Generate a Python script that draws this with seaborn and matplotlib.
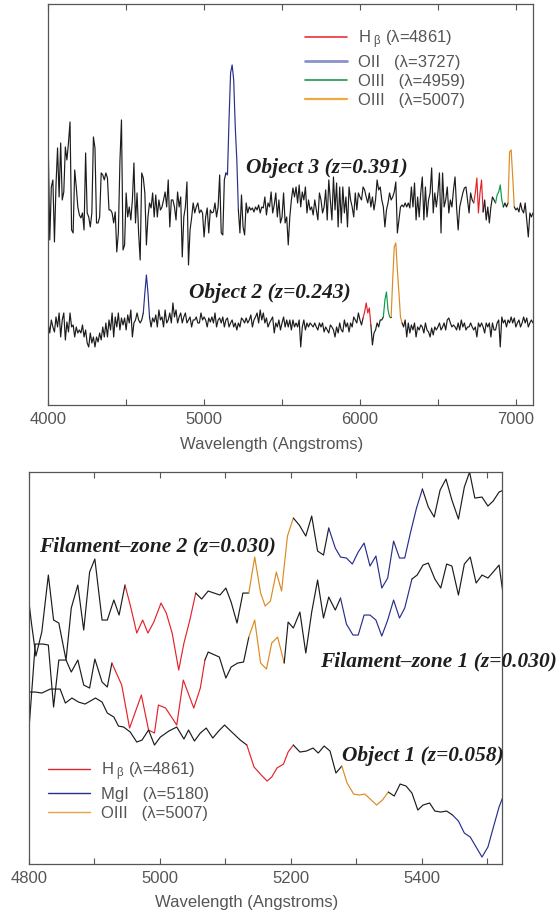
import numpy as np
import pandas as pd
import matplotlib
matplotlib.use("Agg")
import matplotlib.pyplot as plt
from matplotlib.lines import Line2D
from matplotlib import font_manager
from matplotlib.ticker import MultipleLocator
import seaborn as sns

# ---------------- upper panel: spectra on a 10 A grid, 4000-7110 A ----------------
top_start, top_step = 4000, 10

object3_flux = [
    262, 165, 218, 225, 163, 220, 257, 208, 262, 205,   # 4000
    213, 258, 245, 262, 283, 175, 172, 235, 218, 198,   # 4100
    190, 187, 192, 175, 252, 192, 188, 178, 192, 268,   # 4200
    257, 182, 182, 188, 232, 230, 225, 232, 227, 195,   # 4300
    195, 192, 182, 193, 153, 172, 243, 285, 155, 160,   # 4400
    212, 188, 198, 185, 205, 242, 182, 212, 172, 145,   # 4500
    232, 227, 212, 160, 188, 202, 197, 212, 188, 210,   # 4600
    188, 205, 195, 198, 205, 213, 198, 225, 178, 205,   # 4700
    205, 198, 185, 213, 198, 208, 148, 188, 198, 223,   # 4800
    140, 175, 187, 202, 192, 198, 202, 192, 195, 192,   # 4900
    168, 188, 197, 172, 195, 192, 193, 202, 188, 198,   # 5000
    230, 172, 170, 225, 232, 230, 285, 332, 340, 325,   # 5100
    278, 245, 195, 172, 210, 178, 170, 202, 192, 198,   # 5200
    195, 197, 193, 198, 195, 200, 192, 198, 197, 208,   # 5300
    190, 202, 198, 213, 192, 200, 212, 188, 205, 182,   # 5400
    188, 212, 182, 188, 160, 188, 205, 217, 208, 218,   # 5500
    202, 220, 198, 213, 205, 218, 192, 205, 195, 198,   # 5600
    190, 205, 195, 185, 212, 205, 192, 198, 215, 185,   # 5700
    225, 205, 185, 228, 195, 222, 178, 218, 182, 218,   # 5800
    192, 208, 178, 218, 205, 198, 188, 212, 195, 212,   # 5900
    208, 205, 218, 215, 208, 202, 212, 198, 208, 195,   # 6000
    205, 225, 215, 218, 205, 198, 178, 195, 202, 212,   # 6100
    205, 208, 213, 223, 172, 185, 198, 200, 198, 202,   # 6200
    198, 202, 197, 218, 198, 222, 185, 208, 188, 212,   # 6300
    228, 185, 218, 188, 205, 212, 237, 192, 212, 198,   # 6400
    212, 232, 172, 232, 198, 205, 218, 192, 205, 198,   # 6500
    215, 228, 197, 175, 198, 205, 212, 217, 218, 205,   # 6600
    192, 212, 205, 202, 212, 227, 192, 212, 225, 193,   # 6700
    205, 185, 198, 182, 198, 208, 205, 202, 210, 213,   # 6800
    220, 205, 198, 202, 198, 202, 253, 255, 228, 198,   # 6900
    195, 197, 193, 202, 195, 192, 202, 185, 168, 192,   # 7000
    188, 192,                                           # 7100
]

object2_flux = [
    82, 72, 85, 78, 73, 88, 78, 92, 68, 85,
    92, 65, 83, 73, 92, 78, 80, 68, 78, 72,
    75, 72, 80, 68, 75, 62, 58, 72, 62, 68,
    58, 68, 63, 72, 65, 78, 68, 82, 68, 85,
    75, 92, 68, 88, 78, 92, 75, 87, 80, 87,
    75, 90, 82, 95, 68, 82, 85, 92, 85, 82,
    85, 92, 112, 130, 112, 88, 78, 87, 83, 90,
    78, 95, 85, 88, 78, 95, 82, 85, 92, 82,
    102, 88, 95, 82, 88, 92, 82, 88, 92, 82,
    85, 88, 78, 85, 85, 88, 82, 82, 92, 85,
    88, 85, 78, 87, 83, 88, 82, 92, 78, 85,
    87, 82, 88, 78, 85, 87, 78, 82, 85, 78,
    82, 75, 82, 78, 87, 85, 82, 87, 82, 85,
    90, 78, 85, 88, 92, 82, 95, 85, 92, 82,
    87, 78, 82, 85, 88, 72, 82, 78, 85, 75,
    82, 88, 78, 85, 78, 85, 75, 85, 78, 82,
    78, 85, 58, 78, 85, 75, 82, 78, 82, 80,
    78, 82, 78, 75, 82, 78, 82, 73, 78, 75,
    72, 80, 78, 75, 68, 78, 72, 82, 75, 73,
    85, 78, 82, 73, 82, 78, 88, 85, 82, 92,
    85, 80, 87, 93, 102, 92, 97, 80, 60, 72,
    75, 82, 78, 85, 85, 88, 105, 113, 95, 88,
    88, 125, 158, 162, 135, 112, 88, 82, 78, 85,
    68, 82, 72, 80, 75, 82, 68, 78, 75, 80,
    78, 72, 82, 75, 73, 68, 77, 70, 78, 75,
    78, 82, 75, 78, 82, 75, 85, 87, 82, 78,
    80, 78, 75, 82, 75, 85, 78, 82, 75, 78,
    78, 82, 78, 75, 78, 68, 82, 78, 82, 78,
    72, 82, 78, 82, 68, 82, 75, 75, 82, 85,
    58, 88, 82, 85, 78, 85, 82, 88, 82, 87,
    78, 82, 85, 78, 82, 88, 82, 87, 78, 82,
    85, 82,
]

# emission-line windows (wavelength range, colour key)
object3_lines = [(5140, 5220, "OII"), (6730, 6790, "Hb"), (6870, 6920, "OIII4959"), (6950, 6990, "OIII5007")]
object2_lines = [(4610, 4650, "OII"), (6020, 6070, "Hb"), (6150, 6190, "OIII4959"), (6200, 6270, "OIII5007")]

# ---------------- lower panel ----------------
object1_wl = [4800, 4810, 4820, 4833, 4848, 4856, 4866, 4876, 4886, 4902, 4912, 4920, 4930, 4937,
              4945, 4955, 4965, 4973, 4983, 4992, 5001, 5014, 5026, 5037, 5044, 5053, 5062, 5071,
              5081, 5090, 5099, 5110, 5123, 5133, 5144, 5155, 5164, 5171, 5179, 5189, 5196, 5204,
              5214, 5224, 5234, 5242, 5251, 5260, 5269, 5278, 5286, 5296, 5305, 5313, 5323, 5331,
              5340, 5349, 5358, 5367, 5376, 5385, 5394, 5402, 5412, 5420, 5429, 5438, 5447, 5456,
              5465, 5474, 5483, 5492, 5501, 5509, 5518, 5525]
object1_flux = [172, 172, 171, 175, 175, 161, 166, 162, 160, 166, 162, 151, 147, 138,
                137, 132, 122, 124, 134, 119, 127, 133, 137, 125, 134, 123, 131, 136,
                126, 133, 139, 132, 124, 119, 97, 89, 83, 87, 96, 100, 112, 119,
                112, 113, 116, 111, 118, 113, 91, 98, 81, 70, 69, 70, 64, 59,
                64, 72, 68, 80, 78, 71, 54, 59, 61, 53, 52, 53, 49, 43,
                31, 27, 17, 7, 17, 36, 57, 69]

fz2_wl = [4800, 4804, 4811, 4820, 4830, 4838, 4846, 4857, 4865, 4875, 4884, 4893, 4901, 4912,
          4920, 4930, 4938, 4947, 4955, 4965, 4974, 4982, 4991, 5002, 5010, 5019, 5029, 5037,
          5046, 5055, 5064, 5074, 5083, 5092, 5101, 5109, 5118, 5127, 5136, 5145, 5154, 5161,
          5169, 5178, 5186, 5195, 5204, 5213, 5223, 5232, 5241, 5250, 5258, 5268, 5276, 5285,
          5294, 5303, 5312, 5321, 5330, 5339, 5348, 5357, 5366, 5374, 5383, 5392, 5401, 5410,
          5419, 5428, 5437, 5446, 5456, 5465, 5473, 5481, 5492, 5501, 5509, 5518, 5525]
fz2_flux = [264, 242, 208, 232, 289, 244, 241, 204, 256, 279, 234, 292, 305, 244,
            244, 264, 249, 279, 259, 231, 244, 231, 242, 261, 251, 231, 194, 221,
            244, 271, 265, 273, 271, 269, 276, 262, 241, 271, 271, 307, 271, 258,
            263, 292, 273, 328, 346, 339, 328, 348, 313, 309, 336, 316, 307, 306,
            300, 312, 321, 298, 308, 276, 286, 323, 306, 306, 332, 356, 375, 357,
            347, 374, 385, 364, 345, 377, 392, 366, 367, 358, 363, 372, 374]

fz1_wl = [4800, 4810, 4822, 4830, 4838, 4846, 4857, 4865, 4875, 4884, 4893, 4901, 4912, 4920,
          4927, 4942, 4954, 4972, 4983, 4992, 4998, 5009, 5026, 5036, 5052, 5062, 5069, 5074,
          5091, 5101, 5109, 5119, 5128, 5136, 5145, 5154, 5163, 5171, 5180, 5190, 5196, 5204,
          5214, 5223, 5232, 5241, 5250, 5258, 5268, 5276, 5285, 5295, 5303, 5312, 5321, 5330,
          5339, 5348, 5357, 5366, 5374, 5385, 5393, 5402, 5410, 5420, 5429, 5438, 5446, 5456,
          5465, 5474, 5483, 5492, 5501, 5509, 5518, 5525]
fz1_flux = [131, 220, 220, 219, 157, 204, 204, 192, 204, 179, 176, 205, 182, 177,
            201, 179, 136, 169, 134, 131, 159, 156, 139, 184, 156, 176, 204, 212,
            207, 186, 197, 201, 202, 227, 244, 201, 195, 221, 227, 201, 242, 236,
            252, 211, 252, 284, 246, 267, 254, 266, 240, 229, 229, 249, 249, 244,
            228, 244, 264, 246, 256, 285, 289, 299, 301, 285, 276, 300, 298, 269,
            300, 307, 281, 289, 286, 292, 299, 266]

object1_lines = [(5133, 5204, "Hb"), (5278, 5349, "OIII5007"), (5447, 5525, "MgI")]
fz2_lines = [(4947, 5055, "Hb"), (5136, 5204, "OIII5007"), (5258, 5401, "MgI")]
fz1_lines = [(4927, 5069, "Hb"), (5136, 5190, "OIII5007"), (5276, 5385, "MgI")]

COLORS = {"black": "#1c1c1c", "Hb": "#e3232b", "OII": "#27308c", "MgI": "#27308c",
          "OIII4959": "#0b9a4a", "OIII5007": "#dc8a22"}
GREY = "#555555"

sns.set_style("white")
installed = {f.name for f in font_manager.fontManager.ttflist}
SANS = "Liberation Sans Narrow" if "Liberation Sans Narrow" in installed else "Liberation Sans"
plt.rcParams["font.family"] = [SANS, "DejaVu Sans"]
plt.rcParams["mathtext.fontset"] = "custom"
plt.rcParams["mathtext.rm"] = SANS
plt.rcParams["mathtext.it"] = SANS
plt.rcParams["mathtext.bf"] = SANS
SERIF = dict(family=["Liberation Serif", "DejaVu Serif"], weight="bold", style="italic",
             size=15.4, color="#1e1e1e")


def draw_spectrum(ax, wl, flux, lines):
    # split the spectrum into runs of one colour, sharing the end points
    wl = list(wl)
    df = pd.DataFrame({"wl": wl, "flux": flux})
    seg = []
    for i in range(len(wl) - 1):
        key = "black"
        for lo, hi, k in lines:
            if lo <= wl[i] and wl[i + 1] <= hi:
                key = k
        seg.append(key)
    start = 0
    for i in range(1, len(seg) + 1):
        if i == len(seg) or seg[i] != seg[start]:
            part = df.iloc[start:i + 1]
            sns.lineplot(data=part, x="wl", y="flux", color=COLORS[seg[start]], lw=0.85,
                         sort=False, estimator=None, legend=False, ax=ax)
            start = i


def style_axis(ax, major, minor):
    ax.xaxis.set_major_locator(MultipleLocator(major))
    ax.xaxis.set_minor_locator(MultipleLocator(minor))
    ax.set_yticks([])
    ax.tick_params(axis="x", which="both", direction="in", top=True, bottom=True,
                   length=4, width=0.8, color=GREY, labelsize=12, labelcolor=GREY, pad=5)
    for sp in ax.spines.values():
        sp.set_color(GREY)
        sp.set_linewidth(0.9)
    ax.set_ylabel("")
    ax.set_xlabel("Wavelength (Angstroms)", fontsize=12, color=GREY)


fig = plt.figure(figsize=(5.56, 9.15), dpi=100)
ax_top = fig.add_axes([0.0867, 0.5574, 0.8719, 0.4383])
ax_bot = fig.add_axes([0.0516, 0.0557, 0.8507, 0.4284])

# upper panel
top_wl = np.arange(len(object3_flux)) * top_step + top_start
draw_spectrum(ax_top, top_wl, object3_flux, object3_lines)
draw_spectrum(ax_top, top_wl, object2_flux, object2_lines)
ax_top.set_xlim(4000, 7110)
ax_top.set_ylim(0, 401)
style_axis(ax_top, 1000, 500)
ax_top.xaxis.set_label_coords(0.46, -0.08)
ax_top.text(5271, 237, "Object 3 (z=0.391)", va="center", ha="left", **SERIF)
ax_top.text(4903, 112, "Object 2 (z=0.243)", va="center", ha="left", **SERIF)

top_handles = [Line2D([], [], color="#e8343a", lw=1.2), Line2D([], [], color="#8a90c8", lw=2.0),
               Line2D([], [], color="#1a9a50", lw=1.2), Line2D([], [], color="#f4a640", lw=1.6)]
top_labels = [r"H$_{\ \beta}$ (λ=4861)", "OII   (λ=3727)", "OIII   (λ=4959)", "OIII   (λ=5007)"]
ax_top.legend(top_handles, top_labels, loc="upper left", bbox_to_anchor=(0.53, 0.94),
              frameon=False, borderpad=0, borderaxespad=0, handlelength=2.5,
              handletextpad=0.65, labelspacing=0.25, fontsize=12, labelcolor=GREY)

# lower panel
draw_spectrum(ax_bot, fz2_wl, fz2_flux, fz2_lines)
draw_spectrum(ax_bot, fz1_wl, fz1_flux, fz1_lines)
draw_spectrum(ax_bot, object1_wl, object1_flux, object1_lines)
ax_bot.set_xlim(4800, 5522)
ax_bot.set_ylim(0, 392)
style_axis(ax_bot, 200, 100)
ax_bot.xaxis.set_label_coords(0.46, -0.079)
ax_bot.text(4816, 318, "Filament\u2013zone 2 (z=0.030)", va="center", ha="left", **SERIF)
ax_bot.text(5245, 203, "Filament\u2013zone 1 (z=0.030)", va="center", ha="left",
            clip_on=False, **SERIF)
ax_bot.text(5278, 108, "Object 1 (z=0.058)", va="center", ha="left", **SERIF)

bot_handles = [Line2D([], [], color="#d8282e", lw=1.0), Line2D([], [], color="#27308c", lw=1.0),
               Line2D([], [], color="#e9a049", lw=1.0)]
bot_labels = [r"H$_{\ \beta}$ (λ=4861)", "MgI   (λ=5180)", "OIII   (λ=5007)"]
ax_bot.legend(bot_handles, bot_labels, loc="upper left", bbox_to_anchor=(0.041, 0.265),
              frameon=False, borderpad=0, borderaxespad=0, handlelength=2.5,
              handletextpad=0.65, labelspacing=0.25, fontsize=12, labelcolor=GREY)

fig.savefig("out.png", dpi=100)
